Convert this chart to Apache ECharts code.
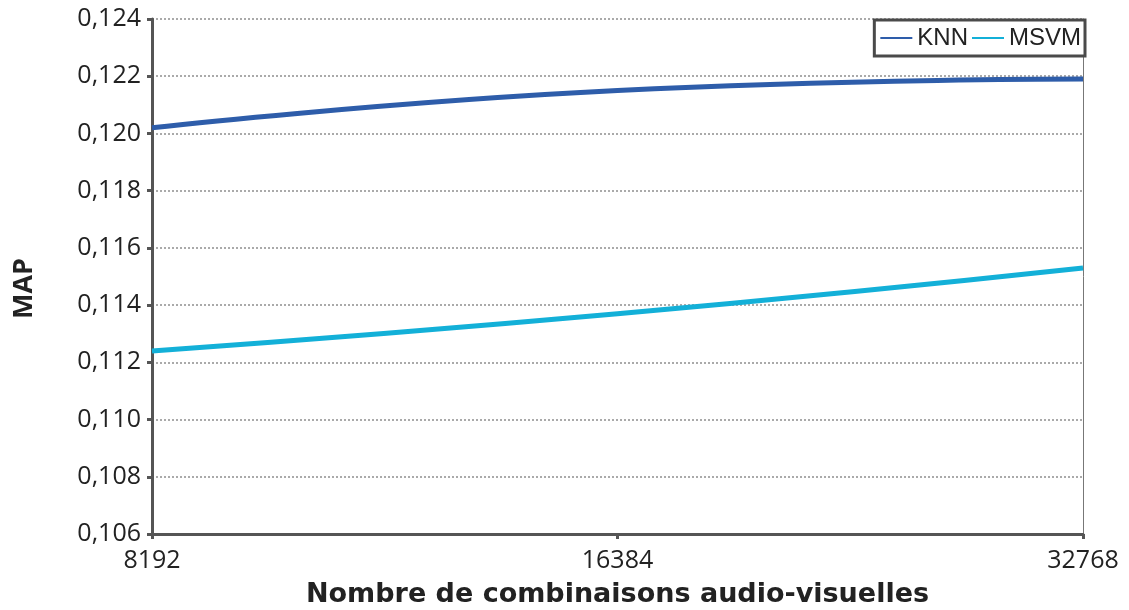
<!DOCTYPE html>
<html><head><meta charset="utf-8">
<script src="https://cdn.jsdelivr.net/npm/echarts@6/dist/echarts.min.js"></script>
<style>html,body{margin:0;padding:0;background:#fff}#c{width:1129px;height:610px}</style>
</head><body><div id="c"></div>
<script>
const categories = ['8192', '16384', '32768'];
const knn = [0.1202, 0.1215, 0.1219];
const msvm = [0.1124, 0.1137, 0.1153];
const yMin = 0.106, yMax = 0.124, yStep = 0.002;

const chart = echarts.init(document.getElementById('c'));
const tickFont = { fontFamily: 'Open Sans', fontSize: 25, color: '#222' };
chart.setOption({
  animation: false,
  grid: { left: 152, right: 46, top: 19, bottom: 76, containLabel: false, outerBoundsMode: 'none' },
  legend: {
    right: 44, top: 20,
    data: ['KNN', 'MSVM'],
    icon: 'rect', itemWidth: 32, itemHeight: 2, itemGap: 4,
    borderColor: '#4a4a4a', borderWidth: 3, padding: [6, 4, 6, 6],
    backgroundColor: '#fff',
    textStyle: { fontFamily: 'Liberation Sans', fontSize: 24, color: '#222', padding: [0, 0, 0, 0] }
  },
  xAxis: {
    type: 'category', data: categories, boundaryGap: false,
    name: 'Nombre de combinaisons audio-visuelles', nameLocation: 'middle', nameGap: 47,
    nameTextStyle: { fontFamily: 'DejaVu Sans', fontWeight: 'bold', fontSize: 27, color: '#222' },
    axisLine: { lineStyle: { color: '#555', width: 3 } },
    axisTick: { show: true, length: 5, lineStyle: { color: '#555', width: 3 } },
    axisLabel: Object.assign({ margin: 14 }, tickFont),
    splitLine: { show: false }
  },
  yAxis: [{
    type: 'value', min: yMin, max: yMax, interval: yStep,
    name: 'MAP', nameLocation: 'middle', nameGap: 114, nameRotate: 90,
    nameTextStyle: { fontFamily: 'Open Sans', fontWeight: 'bold', fontSize: 27, color: '#222', padding: [0, 24, 0, 0] },
    axisLine: { show: true, lineStyle: { color: '#555', width: 3 } },
    axisTick: { show: true, length: 5, lineStyle: { color: '#555', width: 3 } },
    axisLabel: Object.assign({ margin: 11, formatter: v => v.toFixed(3).replace('.', ',') }, tickFont),
    splitLine: { show: true, lineStyle: { color: '#aaa', width: 2, type: [2, 2] } }
  }, {
    type: 'value', min: yMin, max: yMax, interval: yStep, position: 'right',
    axisLine: { show: true, lineStyle: { color: '#777', width: 1 } },
    axisTick: { show: false }, axisLabel: { show: false }, splitLine: { show: false }
  }],
  series: [
    { name: 'KNN', type: 'line', data: knn, smooth: true, showSymbol: false,
      lineStyle: { color: '#2E5DAA', width: 5 }, itemStyle: { color: '#2E5DAA' } },
    { name: 'MSVM', type: 'line', data: msvm, smooth: true, showSymbol: false,
      lineStyle: { color: '#13B0D8', width: 5 }, itemStyle: { color: '#13B0D8' } }
  ]
});
</script></body></html>
